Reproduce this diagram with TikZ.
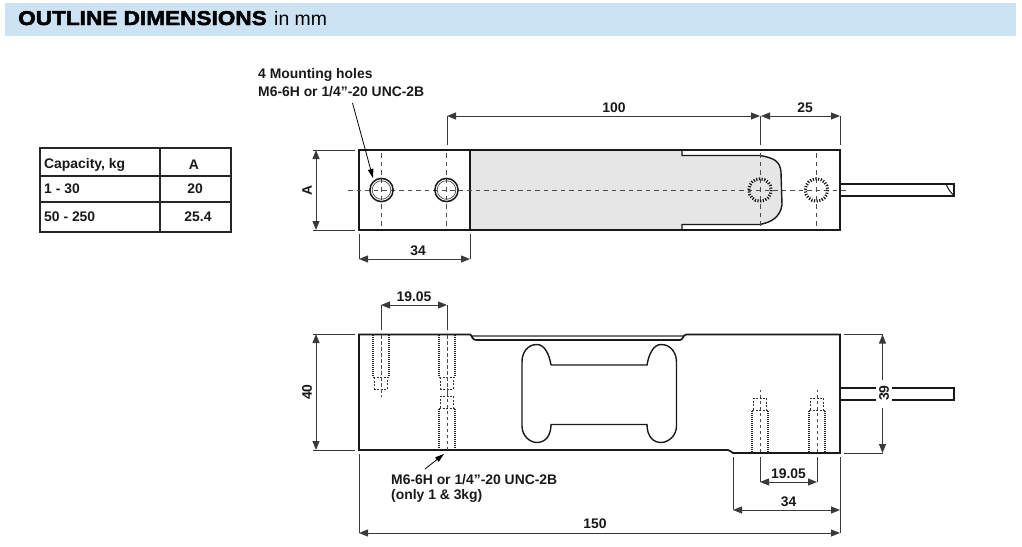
\documentclass[tikz,border=0pt]{standalone}
\usepackage{fontspec}
\setmainfont[Ligatures=ResetAll]{Liberation Sans}
\newfontfamily\wideheavy[FakeStretch=1.13,FakeBold=2.4]{Liberation Sans Bold}
\usetikzlibrary{arrows.meta}
\definecolor{banner}{HTML}{CCE3F3}
\definecolor{dimc}{HTML}{3A3A3A}
\definecolor{fillgr}{HTML}{E6E6E6}
\tikzset{
  lbl/.style={font=\fontsize{13.9}{15}\selectfont\bfseries,text=black!90,inner sep=0pt},
  lft/.style={lbl,anchor=west},
  body/.style={draw=black!90,line width=1.7pt},
  thin body/.style={draw=black!90,line width=1.4pt},
  ext/.style={draw=dimc,line width=.9pt},
  dimline/.style={draw=dimc,line width=1pt,{Triangle[length=9pt,width=7pt]}-{Triangle[length=9pt,width=7pt]}},
  leader/.style={draw=black,line width=.8pt,-{Triangle[length=9pt,width=5.5pt]}},
  centre/.style={draw=black!70,line width=1pt,dash pattern=on 4.5pt off 4pt},
  thread/.style={draw=black!85,line width=2.6pt,dash pattern=on 1pt off 1pt},
  tap/.style={draw=black!80,line width=.8pt,dash pattern=on 2pt off 1.6pt},
  ring/.style={draw=black!90,line width=3pt,dash pattern=on 1.2pt off 1.5pt},
  grid/.style={draw=black!85,line width=1.5pt}
}
% threaded hole opening from the given face: #1 x, #2 face y, #3 direction (+1 down, -1 up)
\newcommand{\threadhole}[3]{%
  \draw[thread] (#1-8,#2) -- (#1-8,#2+#3*42);
  \draw[thread] (#1+8,#2) -- (#1+8,#2+#3*42);
  \draw[tap] (#1-8,#2+#3*42) -- (#1+8,#2+#3*42);
  \draw[tap] (#1-6.5,#2+#3*42) -- (#1-6.5,#2+#3*54) -- (#1+6.5,#2+#3*54) -- (#1+6.5,#2+#3*42);
  \draw[centre,dash pattern=on 3.5pt off 2.5pt] (#1,#2) -- (#1,#2+#3*62);
}
\begin{document}
\begin{tikzpicture}[x=1pt,y=-1pt]
\useasboundingbox (0,0) rectangle (1022,546);
% banner
\fill[banner] (5,3) rectangle (1016,36);
\node[anchor=base west,inner sep=0pt] (title) at (18,25) {\fontsize{20}{22}\selectfont\wideheavy OUTLINE DIMENSIONS};
\node[anchor=base west,inner sep=0pt] (unit) at (274,25) {\fontsize{19.4}{21}\selectfont in mm};
% table
\draw[grid] (40,148) rectangle (231,232);
\draw[grid] (160,148) -- (160,232);
\draw[grid] (40,176) -- (231,176);
\draw[grid] (40,202) -- (231,202);
\node[lft] (t1) at (44,165) {Capacity, kg};
\node[lbl] (t2) at (194,165) {A};
\node[lft] (t3) at (44,189) {1 - 30};
\node[lbl] (t4) at (195,189) {20};
\node[lft] (t5) at (44,217) {50 - 250};
\node[lbl] (t6) at (198,217) {25.4};
% --- top view ---
\fill[fillgr] (470,150) -- (682,150) -- (682,155) -- (760,155)
  .. controls (774,158) and (780,161) .. (781,172) -- (782,205)
  .. controls (780,217) and (772,222) .. (760,225) -- (682,225) -- (682,230) -- (470,230) -- cycle;
\draw[thin body] (682,150) -- (682,155.5) -- (760,155.5)
  .. controls (774,158) and (780,161) .. (781,172) -- (782,205)
  .. controls (780,217) and (772,222) .. (760,224.5) -- (682,224.5) -- (682,230);
\draw[body] (359,150) rectangle (840,230);
\draw[body] (470,150) -- (470,230);
% cable top
\draw[thin body] (840,184) -- (954,184) -- (954,196) -- (840,196);
\draw[draw=black!90,line width=1pt] (946,184) .. controls (948,189) and (951,193) .. (954,195.5);
% centre lines
\draw[centre] (348,190) -- (848,190);
\foreach \cx in {381.5,446.5,760,816.5}{\draw[centre] (\cx,153) -- (\cx,227);}
% holes
\foreach \cx in {381.5,446.5}{
  \draw[draw=black!90,line width=1.5pt] (\cx,190) circle (11.6);
  \draw[draw=black!70,line width=.7pt] (\cx,190) circle (9.3);
}
\foreach \cx in {760,816.5}{
  \draw[ring] (\cx,190) circle (11.2);
}
% top view dimensions
\coordinate (d100a) at (447,116); \coordinate (d100b) at (760,116);
\coordinate (d25a) at (761,116); \coordinate (d25b) at (840,116);
\coordinate (d34a) at (359,259); \coordinate (d34b) at (470,259);
\coordinate (dAa) at (316,150); \coordinate (dAb) at (316,230);
\draw[ext] (447,145) -- (d100a);
\draw[ext] (760,145) -- (d100b);
\draw[ext] (840,145) -- (d25b);
\draw[ext] (359,234) -- (d34a);
\draw[ext] (470,234) -- (d34b);
\draw[ext] (313,150) -- (355,150);
\draw[ext] (313,230) -- (355,230);
\draw[dimline] (d100a) -- (d100b);
\draw[dimline] (d25a) -- (d25b);
\draw[dimline] (d34a) -- (d34b);
\draw[dimline] (dAa) -- (dAb);
\node[lbl] (l100) at (614,108) {100};
\node[lbl] (l25) at (805,108) {25};
\node[lbl] (l34) at (418,251) {34};
\node[lbl,rotate=90] (lA) at (307,190) {A};
% mounting label
\node[lft] (m1) at (258,75.2) {4 Mounting holes};
\node[lft] (m2) at (258,91.2) {M6-6H or 1/4"-20 UNC-2B};
\coordinate (holetip) at (373,178);
\draw[leader] (352.5,103) -- (holetip);
% --- front view ---
\draw[draw=black!55,line width=1.8pt] (472,336.2) -- (684,336.2);
\draw[body] (359,334.5) -- (470,334.5) .. controls (472,335) and (472,340) .. (476,340)
  -- (680,340) .. controls (683,340) and (683,335) .. (686,334.5) -- (840,334.5)
  -- (840,453) -- (733,453) .. controls (731,453) and (731,450) .. (728,450) -- (359,450) -- cycle;
% I-shaped cut-out
\draw[thin body] (551,365) -- (647,365)
  .. controls (649,353) and (654,344.5) .. (661,344.5)
  .. controls (671,344.5) and (676.5,353) .. (676.5,362)
  -- (676.5,426)
  .. controls (676.5,436) and (668,442.5) .. (661,442.5)
  .. controls (653,442.5) and (647,436) .. (647,424.5)
  -- (551,424.5)
  .. controls (551,436) and (545,442.5) .. (537,442.5)
  .. controls (530,442.5) and (522,436) .. (522,426)
  -- (522,362)
  .. controls (522,353) and (527,344.5) .. (537,344.5)
  .. controls (544,344.5) and (549,353) .. (551,365);
% cable front, cut by the 39 label
\draw[thin body] (840,388) -- (876,388);
\draw[thin body] (840,400) -- (876,400);
\draw[thin body] (892,388) -- (954,388) -- (954,400) -- (892,400);
% threads
\threadhole{381}{335}{1}
\threadhole{447}{335}{1}
\threadhole{447}{450}{-1}
\threadhole{760}{452}{-1}
\threadhole{817}{452}{-1}
% front dimensions
\coordinate (f19a) at (381,305); \coordinate (f19b) at (447,305);
\coordinate (f40a) at (316,334); \coordinate (f40b) at (316,450);
\coordinate (f39a) at (882.5,334.5); \coordinate (f39gapa) at (882.5,380);
\coordinate (f39gapb) at (882.5,408); \coordinate (f39b) at (882.5,453);
\coordinate (g19a) at (760,482); \coordinate (g19b) at (817,482);
\coordinate (g34a) at (733,510); \coordinate (g34b) at (840,510);
\coordinate (g150a) at (359,533); \coordinate (g150b) at (840,533);
\draw[ext] (381,330) -- (f19a);
\draw[ext] (447,330) -- (f19b);
\draw[ext] (313,334.5) -- (355,334.5);
\draw[ext] (313,450) -- (355,450);
\draw[ext] (844,334.5) -- (f39a);
\draw[ext] (844,453) -- (f39b);
\draw[ext] (760,457) -- (g19a);
\draw[ext] (817,457) -- (g19b);
\draw[ext] (733,457) -- (g34a);
\draw[ext] (840,457) -- (g150b);
\draw[ext] (359,454) -- (g150a);
\draw[dimline] (f19a) -- (f19b);
\draw[dimline] (f40a) -- (f40b);
\draw[draw=dimc,line width=1pt,{Triangle[length=9pt,width=7pt]}-] (f39a) -- (f39gapa);
\draw[draw=dimc,line width=1pt,-{Triangle[length=9pt,width=7pt]}] (f39gapb) -- (f39b);
\draw[dimline] (g19a) -- (g19b);
\draw[dimline] (g34a) -- (g34b);
\draw[dimline] (g150a) -- (g150b);
\node[lbl] (l19a) at (414,296.5) {19.05};
\node[lbl,rotate=90] (l40) at (307,392) {40};
\node[lbl,rotate=90] (l39) at (884,393) {39};
\node[lbl] (l19b) at (788.5,474) {19.05};
\node[lbl] (l34b) at (788.5,502) {34};
\node[lbl] (l150) at (595,524) {150};
\node[lft] (n1) at (391,479.5) {M6-6H or 1/4"-20 UNC-2B};
\node[lft] (n2) at (391,495.5) {(only 1 \& 3kg)};
\coordinate (threadtip) at (444,454);
\draw[leader] (425,469) -- (threadtip);
\end{tikzpicture}
\end{document}
